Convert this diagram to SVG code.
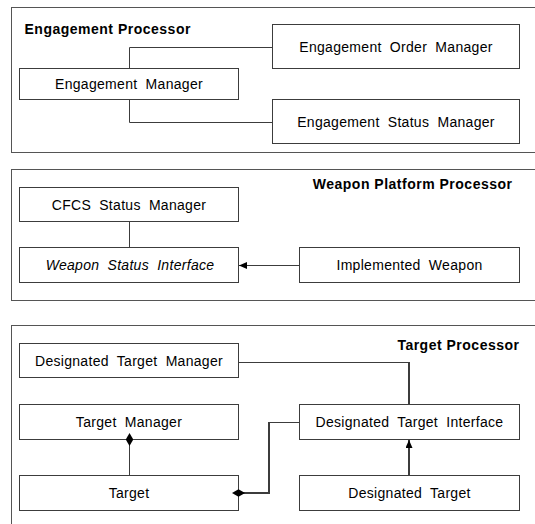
<svg xmlns="http://www.w3.org/2000/svg" width="535" height="524" viewBox="0 0 535 524">
<style>
.frame{fill:none;stroke:#555;stroke-width:1}
.box{fill:#fff;stroke:#3c3c3c;stroke-width:1}
.lbl{font-family:"Liberation Sans",Arial,sans-serif;font-size:14px;letter-spacing:0.3px;word-spacing:4px;fill:#000;text-anchor:middle}
.ital{font-style:italic}
.title{font-family:"Liberation Sans",Arial,sans-serif;font-size:14px;font-weight:bold;letter-spacing:0.5px;fill:#000}
.conn{fill:none;stroke:#3c3c3c;stroke-width:1}
.thick{stroke-width:2}
</style>
<defs>
<marker id="arrow" markerUnits="userSpaceOnUse" markerWidth="9" markerHeight="8" refX="8" refY="3.5" orient="auto" viewBox="0 0 9 8">
<path d="M0,0 L8,3.5 L0,7 z" fill="#000"/>
</marker>
<marker id="diamond" markerUnits="userSpaceOnUse" markerWidth="14" markerHeight="8" refX="6.5" refY="3.75" orient="auto" viewBox="0 0 14 8">
<path d="M0,3.75 L6.5,0 L13,3.75 L6.5,7.5 z" fill="#000"/>
</marker>
</defs>
<rect width="535" height="524" fill="#fff"/>
<g id="frames">
<rect class="frame" x="11.5" y="7.5" width="540" height="145"/>
<rect class="frame" x="11.5" y="169.5" width="540" height="131"/>
<rect class="frame" x="11.5" y="325.5" width="540" height="220"/>
<text class="title" x="24.5" y="34">Engagement Processor</text>
<text class="title" x="512.5" y="189" text-anchor="end">Weapon Platform Processor</text>
<text class="title" x="519.5" y="350" text-anchor="end">Target Processor</text>
</g>
<g id="engagement-order-manager"><rect class="box" x="272.5" y="24.5" width="247" height="44"/><text class="lbl" x="396" y="52">Engagement Order Manager</text></g>
<g id="engagement-manager"><rect class="box" x="19.5" y="68.5" width="219" height="31"/><text class="lbl" x="129" y="89">Engagement Manager</text></g>
<g id="engagement-status-manager"><rect class="box" x="272.5" y="99.5" width="247" height="44"/><text class="lbl" x="396" y="127">Engagement Status Manager</text></g>
<g id="cfcs-status-manager"><rect class="box" x="19.5" y="187.5" width="219" height="34"/><text class="lbl" x="129" y="209.5">CFCS Status Manager</text></g>
<g id="weapon-status-interface"><rect class="box" x="19.5" y="247.5" width="219" height="35"/><text class="lbl ital" x="130" y="270">Weapon Status Interface</text></g>
<g id="implemented-weapon"><rect class="box" x="299.5" y="247.5" width="220" height="35"/><text class="lbl" x="409.5" y="270">Implemented Weapon</text></g>
<g id="designated-target-manager"><rect class="box" x="19.5" y="343.5" width="219" height="34"/><text class="lbl" x="129" y="366">Designated Target Manager</text></g>
<g id="target-manager"><rect class="box" x="19.5" y="404.5" width="219" height="35"/><text class="lbl" x="129" y="427">Target Manager</text></g>
<g id="target"><rect class="box" x="19.5" y="475.5" width="219" height="35"/><text class="lbl" x="129" y="498">Target</text></g>
<g id="designated-target-interface"><rect class="box" x="299.5" y="404.5" width="220" height="35"/><text class="lbl" x="409.5" y="427">Designated Target Interface</text></g>
<g id="designated-target"><rect class="box" x="299.5" y="475.5" width="220" height="35"/><text class="lbl" x="409.5" y="498">Designated Target</text></g>
<g id="connectors">
<path class="conn" d="M129.5 68.5 V47.5 H272.5"/>
<path class="conn" d="M129.5 99.5 V122.5 H272.5"/>
<path class="conn" d="M129.5 221.5 V247.5"/>
<path class="conn" d="M299.5 265.5 H239" marker-end="url(#arrow)"/>
<path class="conn" d="M238.5 362.5 H409"/>
<path class="conn thick" d="M409 362 V404.5"/>
<path class="conn" d="M129.5 439.5 V475.5" marker-start="url(#diamond)"/>
<path class="conn thick" d="M238.5 493 H269 V422" marker-start="url(#diamond)"/>
<path class="conn" d="M268 422.5 H299.5"/>
<path class="conn thick" d="M409 475.5 V440" marker-end="url(#arrow)"/>
</g>
</svg>
